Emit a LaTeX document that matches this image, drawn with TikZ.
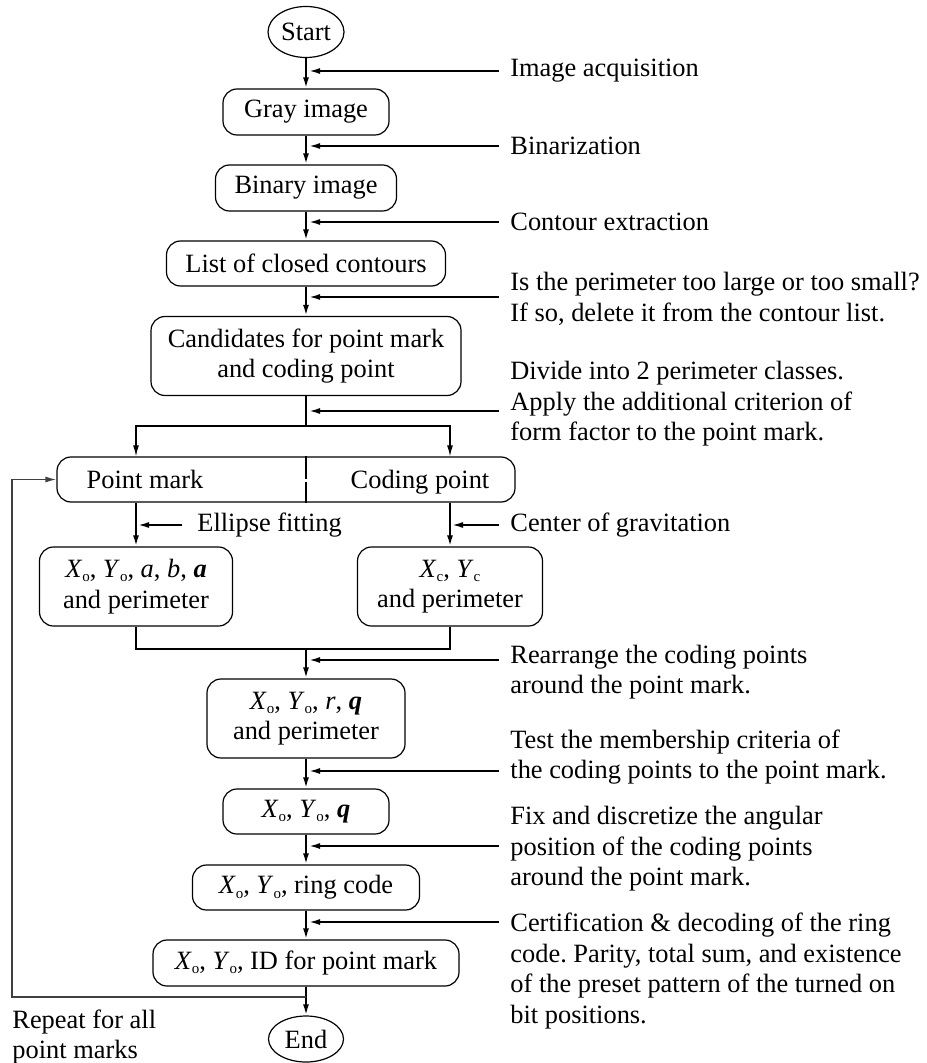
\documentclass[tikz,border=0pt]{standalone}
\usepackage{fontspec}
\setmainfont{Liberation Serif}
\usetikzlibrary{arrows, arrows.meta}
\usetikzlibrary{positioning}
\usetikzlibrary{shapes.geometric}
\frenchspacing

\newcommand{\Xsub}[1]{\textit{X}\raisebox{-0.35ex}{\fontsize{7.5}{8}\selectfont #1}}
\newcommand{\Ysub}[1]{\textit{Y}\raisebox{-0.35ex}{\fontsize{7.5}{8}\selectfont #1}}

\tikzset{
  box/.style={draw, line width=0.6pt, rounded corners=7pt, inner sep=0pt, align=center},
  oval/.style={draw, ellipse, line width=0.6pt, inner sep=0pt},
  flow/.style={line width=1pt, ->},
  branch/.style={line width=0.65pt},
  side/.style={line width=0.9pt, ->},
  backline/.style={line width=0.7pt, draw=black!75, ->},
  note/.style={anchor=west, align=left, inner sep=0pt},
}

\begin{document}
\begin{tikzpicture}[x=0.5pt, y=-0.5pt, >={Latex[length=5.5pt,width=3pt]},
  font=\fontsize{13.2}{15.25}\selectfont]
\useasboundingbox (0,0) rectangle (926,1063);

%boxes
\node[oval, minimum width=38pt, minimum height=25.5pt] (start) at (306,32) {Start};
\node[box, minimum width=83pt, minimum height=23pt] (gray) at (306,112) {Gray image};
\node[box, minimum width=90.5pt, minimum height=23pt] (binary) at (306,188) {Binary image};
\node[box, minimum width=139.5pt, minimum height=22.5pt] (contours) at (306,263.5) {List of closed contours};
\node[box, minimum width=155pt, minimum height=39.5pt] (cand) at (306,356) {Candidates for point mark\\and coding point};
\node[box, minimum width=229pt, minimum height=22.5pt] (split) at (286,479.5) {};
\node[anchor=base] (pmtext) at (145,488) {Point mark};
\node[anchor=base] (cptext) at (420,488) {Coding point};
\node[box, minimum width=96.5pt, minimum height=39.5pt] (pm) at (136,586.5) {\Xsub{o}, \Ysub{o}, \textit{a}, \textit{b}, \textbf{\textit{a}}\\and perimeter};
\node[box, minimum width=92.5pt, minimum height=39.5pt] (cp) at (450,586.5) {\Xsub{c}, \Ysub{c}\\and perimeter};
\node[box, minimum width=99pt, minimum height=39.5pt] (polar) at (306,718.5) {\Xsub{o}, \Ysub{o}, \textit{r}, \textbf{\textit{q}}\\and perimeter};
\node[box, minimum width=83pt, minimum height=22.5pt] (theta) at (306,811.5) {\Xsub{o}, \Ysub{o}, \textbf{\textit{q}}};
\node[box, minimum width=113.5pt, minimum height=22.5pt] (ring) at (306,887.5) {\Xsub{o}, \Ysub{o}, ring code};
\node[box, minimum width=153pt, minimum height=23pt] (id) at (306,963) {\Xsub{o}, \Ysub{o}, ID for point mark};
\node[oval, minimum width=37.5pt, minimum height=23pt] (end) at (306,1039) {End};

%divider
\draw[line width=0.6pt, dash pattern=on 11.5pt off 1.2pt] (split.north -| start.south) -- (split.south -| start.south);

%main flow
\draw[flow] (start) -- (gray);
\draw[flow] (gray) -- (binary);
\draw[flow] (binary) -- (contours);
\draw[flow] (contours) -- (cand);
\coordinate (fork) at (306,426);
\draw[line width=1pt] (cand) -- (fork);
\draw[branch, ->] (fork) -| (split.north -| pm.north);
\draw[branch, ->] (fork) -| (split.north -| cp.north);
\draw[flow] (split.south -| pm.north) -- (pm);
\draw[flow] (split.south -| cp.north) -- (cp);
\coordinate (join) at (306,649);
\draw[branch] (pm.south) |- (join) -| (cp.south);
\draw[flow] (join) -- (polar);
\draw[flow] (polar) -- (theta);
\draw[flow] (theta) -- (ring);
\draw[flow] (ring) -- (id);
\draw[flow] (id) -- (end);

%loop back
\coordinate (back) at (306,997);
\coordinate (corner) at (12,997);
\draw[backline] (back) -- (corner) |- (split.west);

%side arrows
\foreach \n/\y in {acq/71, bin/146, cont/222, perim/297, class/411, rearr/660, test/771, fix/846, cert/922} {
  \coordinate (s\n) at (499,\y);
  \draw[side] (s\n) -- ([xshift=1.5pt]s\n -| start.south);
}
\coordinate (sell) at (182,525);
\draw[side] (sell) -- ([xshift=1pt]sell -| pm.north);
\coordinate (sgrav) at (499,525);
\draw[side] (sgrav) -- ([xshift=1pt]sgrav -| cp.north);

%labels
\node[note] (acq) at (510,71) {Image acquisition};
\node[note] (bin) at (510,146) {Binarization};
\node[note] (cont) at (510,222) {Contour extraction};
\node[note] (perim) at (510,299) {Is the perimeter too large or too small?\\If so, delete it from the contour list.};
\node[note] (class) at (510,404) {Divide into 2 perimeter classes.\\Apply the additional criterion of\\form factor to the point mark.};
\node[note] (ell) at (197,525) {Ellipse fitting};
\node[note] (grav) at (510,525) {Center of gravitation};
\node[note] (rearr) at (510,672) {Rearrange the coding points\\around the point mark.};
\node[note] (test) at (510,757) {Test the membership criteria of\\the coding points to the point mark.};
\node[note] (fix) at (510,849) {Fix and discretize the angular\\position of the coding points\\around the point mark.};
\node[note] (cert) at (510,971) {Certification \& decoding of the ring\\code. Parity, total sum, and existence\\of the preset pattern of the turned on\\bit positions.};
\node[note] (repeat) at (12,1037) {Repeat for all\\point marks};

\end{tikzpicture}
\end{document}
